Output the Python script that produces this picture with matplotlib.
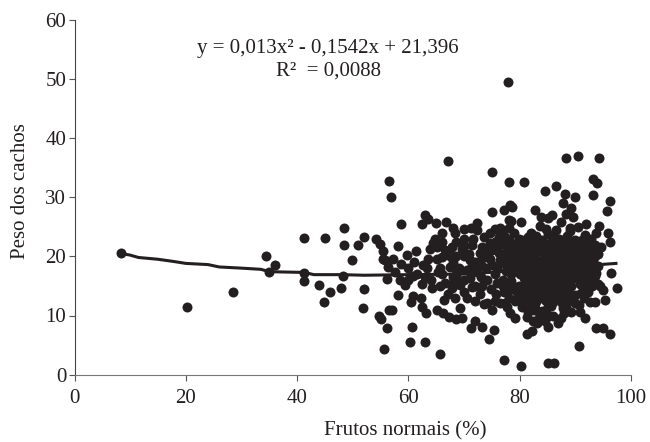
#!/usr/bin/env python3
# -*- coding: utf-8 -*-
import matplotlib
matplotlib.use('Agg')
import matplotlib.pyplot as plt

plt.rcParams['font.family'] = ['Liberation Serif', 'DejaVu Serif']

# Valeurs : points isolés
frutos_esparsos = [
    8.3, 20.2, 28.5, 34.5, 36.1, 35, 41.2, 41.2, 41.2, 44,
    44.8, 45.1, 46, 47.9, 48.4, 48.4, 48.2, 49.9, 51, 52,
    52, 51.8, 54.2, 54.9, 55.4, 55.5, 54.7, 55.1, 56.1, 55.6,
    56.4, 56.6, 56.9, 56.6, 56.1, 58.6, 63, 63.6, 62.5, 65,
    66.7, 68, 68.4, 70, 71.2, 72.3, 72.3, 75.1, 77.1, 78.3,
    67.2, 75.1, 78, 80.7, 86.5, 84.5, 88.4, 90.4, 94.3, 77.9,
    93.1, 93.9, 93.1, 96.2, 95.6, 88.1, 87.8, 90, 89.3, 88.4,
    89.6, 82.8, 78.7, 83.8, 85.8, 85.1, 87.4, 83.6, 80.2, 78.4,
    78, 76.8, 89, 91.9, 90.5, 89, 94.3, 93.8, 95.8, 96.2,
    91.7, 79.8, 80.6, 78.3, 86, 84, 82.8, 66, 64.8, 64.5,
    63.8, 65.1, 58.2, 61.3, 59.7, 58.6, 57.3, 55.8, 67.8, 67.3,
    69.6, 70.8, 71, 71.6, 71.4, 73.2, 74.4, 73.5, 74.7, 66,
    65.1, 62.6, 63.3, 65.6, 69.1, 70.5, 72, 74.7, 75.6, 76.5,
    76.2, 77.4, 78, 76.2, 77.1, 77.7, 78, 77.1, 65.6, 90.7,
    60.2, 63, 60.7, 57.1, 58.2, 60.4, 60.9, 62.3, 62.5, 63.1,
    65.2, 66.2, 67.3, 68.5, 69.6, 71.2, 72, 73.2, 75.4, 74.4,
    69.3, 66.4, 67.2, 68.4, 57.6, 58.5, 59.4, 60, 60.9, 62.4,
    65.4, 64.2, 65.6, 67.8, 69.3, 69.3, 71.1, 72.3, 72.9, 74.1,
    75, 74.1, 73.2, 75.5, 76, 77.1, 77.7, 76.5, 80.2, 85.1,
    86.2, 81.3, 82.2, 85, 83.1, 86.9, 87.8, 91.7, 93.8, 95,
    96.2, 93.6, 95.4, 97.5, 96.4, 79.2, 78.3, 77.4, 79.2, 77.7,
    81.5, 82.5, 84.2, 85, 83, 89.9, 89.3, 87.5, 90.8, 87.1,
    94.4, 95, 92.3, 93.8,
]
peso_esparsos = [
    20.5, 11.5, 14, 20, 18.5, 17.3, 23.1, 17.2, 15.9, 15.2,
    12.2, 23.1, 14, 14.6, 24.7, 21.9, 16.7, 19.3, 21.9, 23.3,
    14.5, 11.3, 22.9, 22.1, 20.9, 19.5, 9.9, 9.4, 7.9, 4.3,
    18.2, 32.7, 30, 11, 16.1, 25.5, 27, 26.3, 25.5, 25.7,
    25.8, 24.7, 24, 24.6, 24.7, 25.6, 24.4, 27.4, 27.9, 28.7,
    36.1, 34.3, 32.5, 32.5, 31.9, 31.1, 36.6, 36.9, 36.6, 49.5,
    33.1, 32.3, 30.4, 29.3, 27.7, 30.5, 29, 30, 28.1, 27.1,
    26.7, 27.9, 28.4, 26.6, 27, 26.4, 25.8, 25.1, 25.8, 26,
    24.7, 24.4, 24.7, 25.4, 24.9, 24.2, 25.1, 23.9, 24, 22.5,
    23.6, 23, 22.5, 21.9, 23.3, 22.8, 21.3, 23.9, 22.9, 22.2,
    21.3, 21.6, 21.7, 20.9, 20.2, 18.7, 19.5, 19.4, 21.6, 20.9,
    21.2, 20.4, 19.4, 22.9, 21.9, 21.6, 21.5, 19.9, 19.5, 19.9,
    19.5, 18.5, 18.1, 18, 18.1, 17.7, 17.7, 23.9, 24.6, 24.7,
    23.3, 23.3, 26.1, 20.5, 18.8, 21.1, 19.7, 2.4, 3.5, 4.9,
    5.5, 5.5, 8.1, 11, 13.5, 12.2, 13.3, 13, 11.4, 10.4,
    10.9, 10.4, 9.8, 9.4, 9.5, 7.9, 9.1, 8.1, 7.5, 6,
    11.2, 12.6, 13.7, 12.9, 17.4, 16, 15.2, 16, 16.7, 15.3,
    17.4, 14.6, 14.9, 14.6, 15.2, 17.7, 16.3, 17.4, 13.7, 12.1,
    10.9, 16, 15, 17, 15.5, 14, 11.5, 12.1, 1.4, 1.9,
    1.9, 6.9, 7.3, 8.1, 8.8, 8.7, 11.2, 9.5, 7.9, 7.9,
    6.9, 12.2, 12.6, 14.7, 17.1, 9.5, 10.4, 12.1, 12.5, 14,
    10.6, 11, 9.8, 10, 11, 12.1, 10.6, 9.5, 10.6, 12.9,
    14.9, 14.3, 14, 17.1,
]

# Nuage dense autour de 80-94 %
frutos_centro = [
    81.5, 83, 85, 87, 88.5, 90, 91.5, 92.8, 82, 84.8, 86.5,
    79, 82, 84, 85.5, 87.3, 89, 90.8, 92.3, 93.5, 94.6,
    78.8, 80.5, 82.3, 83.8, 85.2, 86.7, 88, 89.5, 91, 92.6, 94,
    79.8, 81.2, 82.8, 84.4, 85.9, 87.4, 88.8, 90.2, 91.8, 93.2,
    78.8, 80.4, 82, 83.4, 85, 86.4, 87.9, 89.3, 90.8, 92.4, 94,
    80, 81.5, 83, 84.6, 86, 87.5, 89, 90.5, 92, 93.5,
    78.5, 81, 82.5, 84, 85.5, 87, 88.5, 90.8, 92.5, 94,
    79.2, 80.8, 82.4, 84, 85.6, 87.2, 88.6, 91,
    81.5, 83, 84.6, 86, 88.8, 80.3,
    82, 84.8, 85.6, 88.4,
    68, 70, 72, 74, 75, 76, 68, 70, 72, 73,
    80.5, 83.5, 86, 88, 89.8, 91.2,
    79.8, 81.3, 83, 84.7, 86.2, 88, 89.6, 91.2, 92.8,
    79.4, 81, 82.7, 84.5, 86, 87.5, 89, 90.6, 92.2, 93.6,
    79.6, 81, 82.6, 84, 85.6, 87, 88.4, 89.8, 91.4, 93,
    79.5, 81, 82.6, 84, 85.4, 87, 88.4, 90, 91.5, 93,
    80.8, 82.3, 83.8, 85.3, 86.8, 88.3, 89.8, 91.4, 93,
    79.8, 81.6, 83.3, 84.8, 86.4, 88, 89.2, 91.6, 93,
    80, 82, 83.6, 85.2, 86.8, 88.2,
    82.8, 85, 87.6, 84, 86, 88,
]
peso_centro = [
    23.2, 23.5, 23.8, 23, 23.4, 22.8, 22.6, 22.9, 24, 24.6, 24.5,
    22, 22.1, 21.8, 22.2, 21.9, 22, 21.8, 21.6, 21.9, 21.5,
    20.6, 20.8, 20.5, 20.9, 20.6, 20.9, 20.5, 20.8, 20.6, 20.7, 20.4,
    19.4, 19.6, 19.3, 19.5, 19.2, 19.6, 19.3, 19.5, 19.2, 19.4,
    18.2, 18.4, 18, 18.3, 18, 18.3, 18, 18.2, 17.9, 18.1, 18.3,
    17, 16.8, 17.1, 16.9, 17.2, 16.8, 17.1, 16.9, 17, 16.7,
    15.8, 15.5, 15.7, 15.4, 15.8, 15.5, 15.6, 15.4, 15.6, 15.3,
    14.3, 14, 14.2, 13.9, 14.3, 14, 14.2, 13.8,
    12.6, 12.4, 12.7, 12.3, 12.6, 12.2,
    11.6, 11, 11.6, 11.5,
    19, 20, 19, 18, 21, 18, 16.5, 14, 15, 18.5,
    22.7, 22.6, 22.8, 22.7, 22.6, 22.8,
    21.3, 21.2, 21.4, 21.3, 21.2, 21.4, 21.3, 21.2, 21.3,
    20, 20.1, 19.9, 20, 20.1, 19.9, 20, 20.1, 19.9, 20,
    18.8, 18.9, 18.7, 18.8, 18.9, 18.7, 18.8, 18.9, 18.7, 18.8,
    17.6, 17.7, 17.5, 17.6, 17.7, 17.5, 17.6, 17.7, 17.5, 17.6,
    16.3, 16.4, 16.2, 16.3, 16.4, 16.2, 16.3, 16.4, 16.2,
    14.9, 15, 14.8, 14.9, 15, 14.8, 14.9, 14.8, 15,
    13.3, 13.4, 13.2, 13.3, 13.4, 13.2,
    12, 11.9, 12.1, 10.8, 10, 10.5,
]

# Zone intermédiaire 60-79 %
frutos_milieu = [
    66.5, 68.5, 70, 72.8, 75.5, 76.8, 78, 79,
    66, 67.5, 68.5, 70, 71.5, 73, 74.8, 75.8, 77, 77.5, 78.5,
    66.5, 68, 70.5, 72, 73.5, 75.5,
    63, 64, 61.5, 63.5, 61, 60, 66, 68.5, 70, 73.5,
    77.5, 78.2, 77, 78.4, 76.4, 75, 78, 76, 74, 72.5,
    71, 69, 67.5, 74.6, 76.8, 78.6, 79.6, 80.4, 81.4, 82.4,
    83.4, 84.6, 90, 91.5, 92.6, 90.6,
]
peso_milieu = [
    21, 20, 21.8, 20.5, 22.5, 20, 22.8, 24,
    17, 18.2, 17, 16, 14.8, 16.5, 14.5, 13.6, 16, 17.5, 17,
    15.5, 15.5, 13, 12.5, 12, 12.5,
    16.5, 16, 17, 19.5, 19, 18, 22.5, 22.5, 23, 23.2,
    20, 18.4, 15, 15.2, 19.3, 18.6, 13, 21.5, 20.4, 19,
    17.8, 16, 20, 22.2, 22, 21.2, 12.9, 11.4, 9.8, 9,
    9.6, 9, 13.4, 12.9, 12.2, 11.8,
]

# Courbe de tendance
tendance_x = [8.3, 10, 11.5, 15, 18, 20, 24, 26, 30, 33.5, 35, 40, 41.2, 43,
              48, 52, 60, 70, 75, 80, 85, 90, 97.3]
tendance_y = [20.5, 20.2, 19.8, 19.5, 19.1, 18.8, 18.6, 18.2, 18, 17.8, 17.4,
              17.3, 17.3, 16.9, 16.9, 16.8, 16.9, 17, 17.3, 17.6, 18, 18.3, 18.8]

x_ticks = [0, 20, 40, 60, 80, 100]
y_ticks = [0, 10, 20, 30, 40, 50, 60]

noir = '#231f20'

fig = plt.figure(figsize=(6.5, 4.42), dpi=100)
ax = fig.add_axes([74.5 / 650, 1 - 374.7 / 442, (631 - 74.5) / 650, (374.7 - 19.5) / 442])

ax.plot(tendance_x, tendance_y, color=noir, lw=2.2, zorder=3)
ax.plot(frutos_esparsos + frutos_centro + frutos_milieu,
        peso_esparsos + peso_centro + peso_milieu, ls='none',
        marker='o', ms=7.2, mfc=noir, mec=noir, mew=0, clip_on=False, zorder=4)

ax.set_xlim(0, 100)
ax.set_ylim(0, 60)
ax.set_xticks(x_ticks)
ax.set_yticks(y_ticks)
ax.tick_params(axis='both', labelsize=15, length=4, width=0.8, color='#555555',
               labelcolor=noir, pad=2)
ax.tick_params(axis='x', pad=6)
for cote in ['top', 'right']:
    ax.spines[cote].set_visible(False)
ax.spines['left'].set_color('#444444')
ax.spines['bottom'].set_color('#777777')

# Titres d'axes décalés comme sur l'original
fig.text(405 / 650, 1 - 431 / 442, 'Frutos normais (%)', fontsize=15, color=noir,
         ha='center', va='center')
fig.text(21 / 650, 1 - 191 / 442, 'Peso dos cachos', fontsize=15, color=noir,
         ha='center', va='center', rotation=90)

fig.text(327.5 / 650, 1 - 48 / 442, 'y = 0,013x² - 0,1542x + 21,396',
         fontsize=15, color=noir, ha='center', va='center')
fig.text(329 / 650, 1 - 71 / 442, 'R²  = 0,0088',
         fontsize=15, color=noir, ha='center', va='center')

plt.savefig('out.png', dpi=100)
